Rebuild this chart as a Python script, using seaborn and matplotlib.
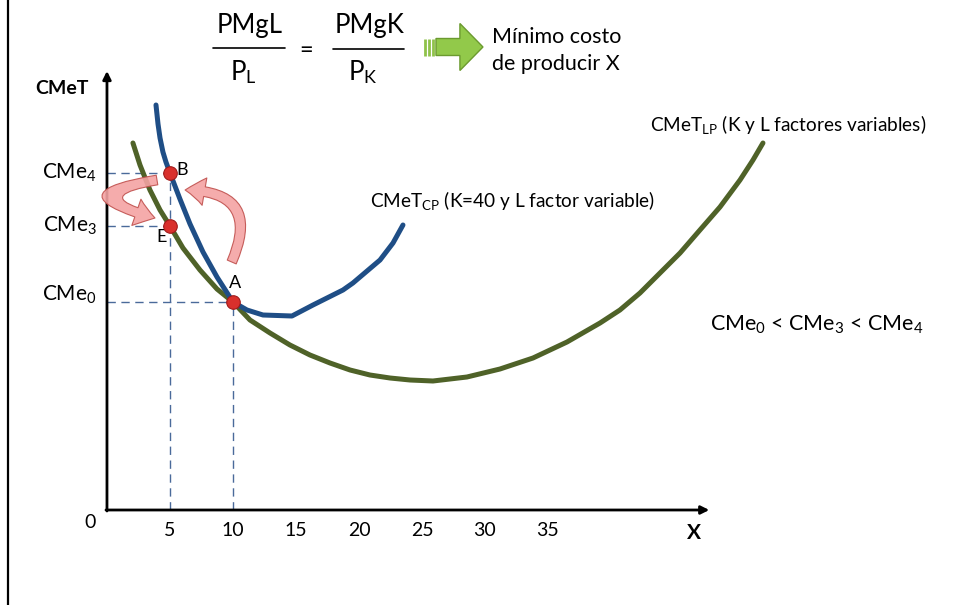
import numpy as np
import matplotlib.pyplot as plt
import matplotlib.patches as mpatches
import seaborn as sns

# CMeT largo plazo (K y L variables)
lp_x = [2.06, 2.62, 3.41, 4.21, 5.0, 6.03, 7.38, 8.73, 10.0, 11.35, 12.94, 14.52, 16.11,
        17.70, 19.29, 20.87, 22.46, 24.05, 25.87, 28.57, 31.19, 33.81, 36.51, 39.13,
        40.71, 42.30, 43.89, 45.48, 47.06, 48.65, 50.24, 51.27, 52.06]
lp_y = [36.7, 34.5, 32.0, 30.0, 28.4, 26.2, 24.0, 22.1, 20.8, 19.0, 17.7, 16.5, 15.5,
        14.7, 14.0, 13.5, 13.2, 13.0, 12.9, 13.3, 14.1, 15.2, 16.8, 18.7,
        20.0, 21.7, 23.7, 25.7, 28.0, 30.3, 33.0, 35.0, 36.7]

# CMeT corto plazo (K=40)
cp_x = [3.89, 4.05, 4.21, 4.44, 4.68, 5.0, 5.79, 6.59, 7.62, 8.73, 10.0, 11.11, 12.38,
        14.68, 16.35, 18.73, 19.52, 21.67, 22.70, 23.49]
cp_y = [40.5, 38.6, 37.2, 35.8, 34.8, 33.7, 31.1, 28.6, 25.8, 23.3, 20.8, 20.0, 19.5,
        19.4, 20.5, 22.0, 22.7, 25.0, 26.7, 28.5]

point_names = ["B", "E", "A"]
point_x = [5, 5, 10]
point_y = [33.7, 28.4, 20.8]
cost_labels = ["CMe$_{4}$", "CMe$_{3}$", "CMe$_{0}$"]

x_ticks = [5, 10, 15, 20, 25, 30, 35]

green = "#4f6228"
blue = "#1f4e86"
dash_col = "#4a6a9a"

sns.set_theme(style="white")
plt.rcParams["font.family"] = ["Lato", "DejaVu Sans"]
plt.rcParams["mathtext.fontset"] = "custom"
plt.rcParams["mathtext.rm"] = "Lato"
plt.rcParams["mathtext.it"] = "Lato:italic"
plt.rcParams["mathtext.bf"] = "Lato:bold"
plt.rcParams["text.color"] = "black"

fig = plt.figure(figsize=(9.56, 6.05), dpi=100)
ax = fig.add_axes([0, 0, 1, 1])
ax.set_xlim(-8.49, 67.38)
ax.set_ylim(-9.5, 51.0)
ax.axis("off")

# slide border on the left
ax.axvline(-7.86, color="black", lw=1.6)

# axes with arrows
ax.annotate("", xy=(0, 43.9), xytext=(0, -0.1),
            arrowprops=dict(arrowstyle="-|>", lw=2, color="black", mutation_scale=12,
                            shrinkA=0, shrinkB=0))
ax.annotate("", xy=(47.8, 0), xytext=(-0.08, 0),
            arrowprops=dict(arrowstyle="-|>", lw=2, color="black", mutation_scale=12,
                            shrinkA=0, shrinkB=0))

ax.text(-3.55, 42.2, "CMeT", fontsize=14, fontweight="bold", ha="center", va="center")
ax.text(46.6, -2.3, "X", fontsize=15, fontweight="bold", ha="center", va="center")
ax.text(-1.35, -1.3, "0", fontsize=14, ha="center", va="center")
for t in x_ticks:
    ax.text(t, -2.0, str(t), fontsize=14, ha="center", va="center")

# dashed guides
ax.hlines(point_y, 0, point_x, colors=dash_col, lw=1, linestyles=(0, (6, 4)))
ax.vlines([point_x[0], point_x[2]], 0, [point_y[0], point_y[2]], colors=dash_col, lw=1,
          linestyles=(0, (6, 4)))
for lab, y in zip(cost_labels, point_y):
    ax.text(-0.8, y + (0.7 if lab == cost_labels[2] else 0), lab, fontsize=15,
            ha="right", va="center")

# curves
sns.lineplot(x=lp_x, y=lp_y, color=green, lw=3.6, estimator=None, sort=False,
             solid_joinstyle="round", ax=ax)
sns.lineplot(x=cp_x, y=cp_y, color=blue, lw=3.6, estimator=None, sort=False,
             solid_joinstyle="round", ax=ax)

# red curved arrows
arrow_kw = dict(arrowstyle="simple,head_length=14,head_width=20,tail_width=7",
                fc="#f4a3a3", ec="#c0504d", lw=0.8, alpha=0.9, shrinkA=0, shrinkB=0, zorder=3)
ax.add_patch(mpatches.FancyArrowPatch((3.97, 33.0), (3.81, 29.2),
                                      connectionstyle="arc3,rad=2.3", **arrow_kw))
ax.add_patch(mpatches.FancyArrowPatch((9.9, 24.8), (6.2, 32.0),
                                      connectionstyle="arc3,rad=0.75", **arrow_kw))

# points
sns.scatterplot(x=point_x, y=point_y, s=95, color="#d9302c", edgecolor="#a11b1b",
                linewidth=0.8, zorder=6, ax=ax)
ax.text(5.48, 34.0, point_names[0], fontsize=13, ha="left", va="center")
ax.text(4.35, 27.3, point_names[1], fontsize=13, ha="center", va="center")
ax.text(10.16, 22.7, point_names[2], fontsize=13, ha="center", va="center")

# curve labels
ax.text(20.87, 31.0, "CMeT$_{\\mathrm{CP}}$ (K=40 y L factor variable)", fontsize=13.7,
        ha="left", va="center")
ax.text(43.1, 38.5, "CMeT$_{\\mathrm{LP}}$ (K y L factores variables)", fontsize=13.7,
        ha="left", va="center")
ax.text(47.86, 18.5, "CMe$_{0}$ < CMe$_{3}$ < CMe$_{4}$", fontsize=15.5, ha="left",
        va="center")

# condition at the top
ax.text(11.3, 48.5, "PMgL", fontsize=18.5, ha="center", va="center")
ax.plot([8.4, 14.1], [46.2, 46.2], color="black", lw=1.2)
ax.text(10.8, 43.8, "P$_{\\mathrm{L}}$", fontsize=18.5, ha="center", va="center")
ax.text(15.8, 46.0, "=", fontsize=17, ha="center", va="center")
ax.text(20.8, 48.5, "PMgK", fontsize=18.5, ha="center", va="center")
ax.plot([17.9, 23.6], [46.1, 46.1], color="black", lw=1.2)
ax.text(20.3, 43.8, "P$_{\\mathrm{K}}$", fontsize=18.5, ha="center", va="center")

ax.add_patch(mpatches.FancyArrow(26.11, 46.3, 3.73, 0, width=1.7, head_width=4.7,
                                 head_length=1.83, length_includes_head=True,
                                 fc="#92c94a", ec="#6b9a2f", lw=1))
ax.vlines([25.24, 25.56, 25.84], 45.45, 47.15, colors="#8fc24a", lw=2)
ax.text(30.56, 47.3, "Mínimo costo", fontsize=15.5, ha="left", va="center")
ax.text(30.56, 44.6, "de producir X", fontsize=15.5, ha="left", va="center")

fig.savefig("out.png", dpi=100)
